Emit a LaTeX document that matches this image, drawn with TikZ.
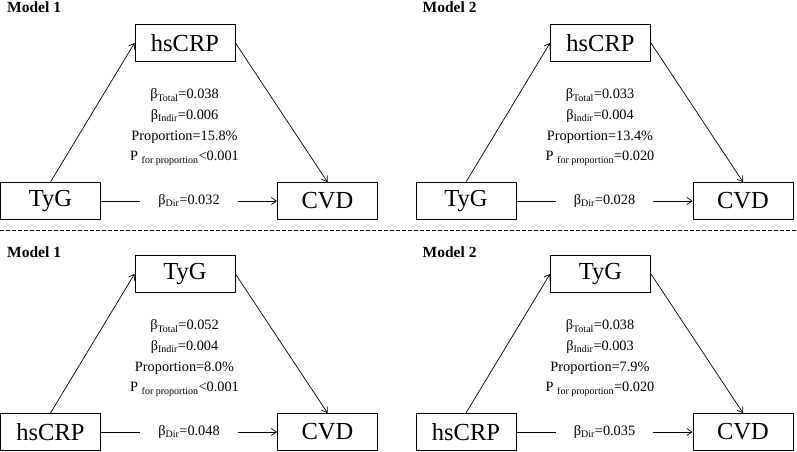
\documentclass[tikz,border=0pt]{standalone}
\usepackage{fontspec}
\setmainfont{Liberation Serif}
\usetikzlibrary{arrows.meta}
\begin{document}
\begin{tikzpicture}[
	x=1pt,
	y=-1pt,
	line join=round,
	>={Straight Barb[length=5pt,width=7pt]},
	var/.style={draw, line width=1pt, minimum width=100pt, minimum height=37pt, inner sep=0pt, font=\fontsize{24.5}{28}\selectfont},
	est/.style={align=center, inner sep=0pt, font=\fontsize{14.3}{20.7}\selectfont},
	dirlab/.style={fill=white, inner xsep=18pt, inner ysep=2pt, font=\fontsize{14.3}{17}\selectfont},
	model/.style={anchor=base west, inner sep=0pt, font=\fontsize{15.5}{18}\selectfont\bfseries},
	]
\useasboundingbox (0,0) rectangle (797,451);
\draw[line width=1pt, dash pattern=on 4pt off 2pt] (0,230) -- (797,230);
\foreach \k/\dx/\dy/\ly/\n/\xv/\mv/\tot/\ind/\prop/\pp/\dir in {
	a/0/0/12.3/1/TyG/hsCRP/0.038/0.006/15.8/{<0.001}/0.032,
	b/415.5/0/12.3/2/TyG/hsCRP/0.033/0.004/13.4/{=0.020}/0.028,
	c/0/231/26.3/1/hsCRP/TyG/0.052/0.004/8.0/{<0.001}/0.048,
	d/415.5/231/26.3/2/hsCRP/TyG/0.038/0.003/7.9/{=0.020}/0.035}
	{
	\begin{scope}[shift={(\dx,\dy)}]
	\node[model] (lab-\k) at (7,\ly) {Model \n};
	\node[var] (x-\k) at (50.5,201) {\xv};
	\node[var] (m-\k) at (185,43) {\mv};
	\node[var] (y-\k) at (327.5,201) {CVD};
	\node[est] (eff-\k) at (184.5,127) {β\textsubscript{Total}=\tot\\
		β\textsubscript{Indir}=\ind\\
		Proportion=\prop\%\\
		P \textsubscript{for proportion}\pp};
	\draw[->, line width=0.7pt] (x-\k.north) -- (m-\k.west);
	\draw[->, line width=0.7pt] (m-\k.east) -- (y-\k.north);
	\draw[->, line width=0.7pt] (x-\k) -- node[dirlab] {β\textsubscript{Dir}=\dir} (y-\k);
	\end{scope}
	}
\end{tikzpicture}
\end{document}
